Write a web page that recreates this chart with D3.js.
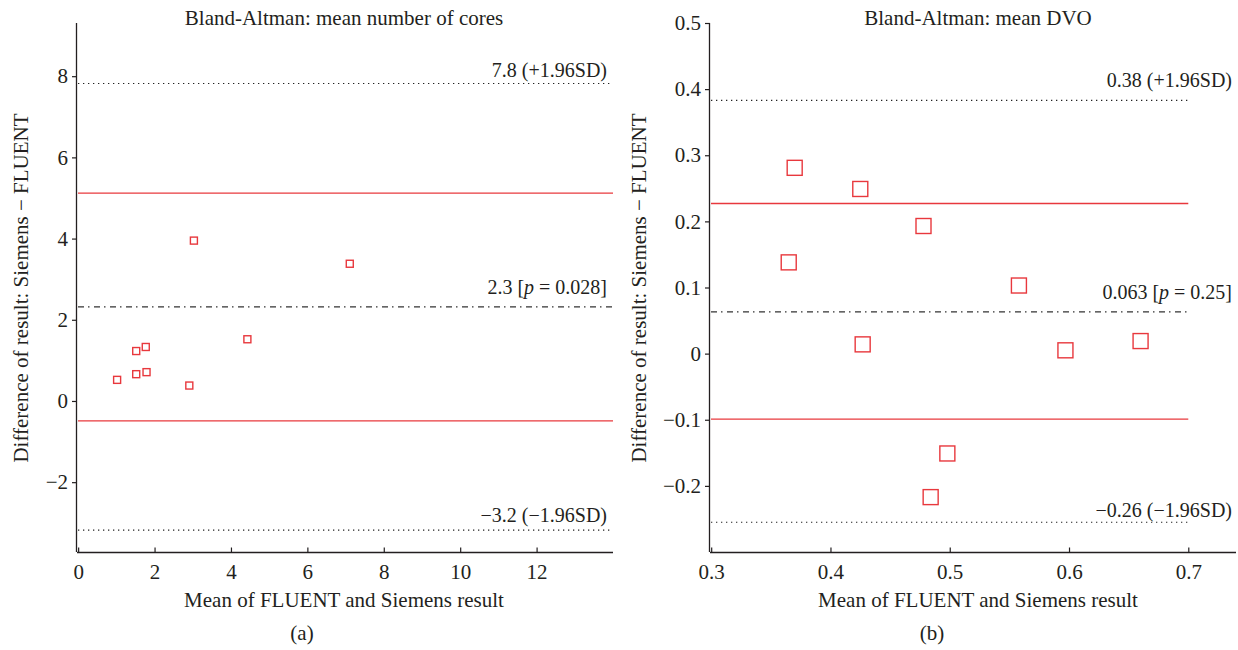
<!DOCTYPE html>
<html>
<head>
<meta charset="utf-8">
<script src="https://cdn.jsdelivr.net/npm/d3@7"></script>
<style>
  html, body { margin: 0; padding: 0; background: #fff; }
  svg text { font-family: "Liberation Serif", "DejaVu Serif", serif; fill: #231f20; }
</style>
</head>
<body>
<svg id="chart" width="1238" height="650"></svg>
<script>
// panel (a): mean number of cores
const coresMean = [3.03, 7.11, 4.43, 1.52, 1.77, 1.02, 1.52, 1.79, 2.91];
const coresDiff = [3.95, 3.38, 1.52, 1.23, 1.33, 0.52, 0.66, 0.71, 0.38];
const coresLines = [7.82, 5.12, 2.32, -0.49, -3.18];
const coresLabels = ['7.8 (+1.96SD)', null, ['2.3 [', 'p', ' = 0.028]'], null, '\u22123.2 (\u22121.96SD)'];
const coresXTicks = [0, 2, 4, 6, 8, 10, 12];
const coresYTicks = [-2, 0, 2, 4, 6, 8];

// panel (b): mean DVO
const dvoMean = [0.370, 0.425, 0.478, 0.365, 0.558, 0.427, 0.597, 0.660, 0.498, 0.484];
const dvoDiff = [0.281, 0.249, 0.193, 0.138, 0.103, 0.014, 0.005, 0.019, -0.151, -0.217];
const dvoLines = [0.383, 0.227, 0.063, -0.099, -0.255];
const dvoLabels = ['0.38 (+1.96SD)', null, ['0.063 [', 'p', ' = 0.25]'], null, '\u22120.26 (\u22121.96SD)'];
const dvoXTicks = [0.3, 0.4, 0.5, 0.6, 0.7];
const dvoYTicks = [-0.2, -0.1, 0, 0.1, 0.2, 0.3, 0.4, 0.5];

// kinds of reference lines, same order as the *Lines arrays
const lineKinds = ['loa', 'ci', 'mean', 'ci', 'loa'];

const RED = '#e8383d';
const INK = '#231f20';
const TICK_FS = '21px';
const NOTE_FS = '20px';
const LABEL_FS = '21px';

const svg = d3.select('#chart');

function drawPanel(cfg) {
    const x = d3.scaleLinear().domain(cfg.xDomain).range(cfg.xRange);
    const y = d3.scaleLinear().domain(cfg.yDomain).range([552, 23]);
    const g = svg.append('g');
    const fmt = v => d3.format(cfg.tickFmt)(v).replace('-', '\u2212');

    // y axis (ticks outward)
    const yAxis = g.append('g')
        .attr('transform', `translate(${cfg.xRange[0]},0)`)
        .call(d3.axisLeft(y).tickValues(cfg.yTicks).tickSize(5).tickPadding(4).tickFormat(fmt));
    // x axis (ticks inward)
    const xAxis = g.append('g')
        .attr('transform', `translate(0,552)`)
        .call(d3.axisBottom(x).tickValues(cfg.xTicks).tickSize(-5).tickPadding(12).tickFormat(fmt));

    [yAxis, xAxis].forEach(a => {
        a.attr('font-size', null).attr('font-family', null);
        a.select('.domain').attr('stroke', INK).attr('stroke-width', 1.3);
        a.selectAll('.tick line').attr('stroke', INK).attr('stroke-width', 1.2);
        a.selectAll('.tick text')
            .style('font-family', '"Liberation Serif", serif')
            .style('font-size', TICK_FS)
            .attr('fill', INK);
    });
    yAxis.select('.domain').attr('d', `M-0.5,${y.range()[1]}V${y.range()[0]}`);
    xAxis.select('.domain').attr('d', `M${cfg.xRange[0]},0.5H${cfg.xRange[1]}`);
    xAxis.selectAll('.tick line').attr('transform', 'translate(0,0.5)');

    // reference lines
    const lineEnd = x(cfg.lineEnd);
    cfg.lines.forEach((v, i) => {
        const kind = lineKinds[i];
        const ln = g.append('line')
            .attr('x1', cfg.xRange[0] + 1)
            .attr('x2', lineEnd)
            .attr('y1', y(v))
            .attr('y2', y(v));
        if (kind === 'ci') {
            ln.attr('stroke', RED).attr('stroke-width', 1.3);
        } else if (kind === 'mean') {
            ln.attr('stroke', '#333').attr('stroke-width', 1.2).attr('stroke-dasharray', '6,4,1.5,4.5');
        } else {
            ln.attr('stroke', '#222').attr('stroke-width', 1.2).attr('stroke-dasharray', '1.3,3.7');
        }

        const lab = cfg.labels[i];
        if (!lab) return;
        const t = g.append('text')
            .attr('x', cfg.labelX)
            .attr('y', y(v) - cfg.labelGap[i])
            .attr('text-anchor', 'end')
            .style('font-size', NOTE_FS);
        if (Array.isArray(lab)) {
            t.append('tspan').text(lab[0]);
            t.append('tspan').style('font-style', 'italic').text(lab[1]);
            t.append('tspan').text(lab[2]);
        } else {
            t.text(lab);
        }
    });

    // points
    const pts = cfg.xs.map((d, i) => ({ x: d, y: cfg.ys[i] }));
    g.selectAll('rect.pt')
        .data(pts)
        .enter()
        .append('rect')
        .attr('class', 'pt')
        .attr('x', d => x(d.x) - cfg.marker / 2)
        .attr('y', d => y(d.y) - cfg.marker / 2)
        .attr('width', cfg.marker)
        .attr('height', cfg.marker)
        .attr('fill', 'none')
        .attr('stroke', RED)
        .attr('stroke-width', 1.4);

    // titles and labels
    g.append('text')
        .attr('x', cfg.titleX)
        .attr('y', 25)
        .attr('text-anchor', 'middle')
        .style('font-size', LABEL_FS)
        .text(cfg.title);

    g.append('text')
        .attr('x', cfg.xLabelX)
        .attr('y', 607)
        .attr('text-anchor', 'middle')
        .style('font-size', LABEL_FS)
        .text('Mean of FLUENT and Siemens result');

    g.append('text')
        .attr('transform', `translate(${cfg.yLabelX},288) rotate(-90)`)
        .attr('text-anchor', 'middle')
        .style('font-size', LABEL_FS)
        .text('Difference of result: Siemens \u2212 FLUENT');

    g.append('text')
        .attr('x', cfg.capX)
        .attr('y', 640)
        .attr('text-anchor', 'middle')
        .style('font-size', LABEL_FS)
        .text(cfg.caption);
}

drawPanel({
    xs: coresMean, ys: coresDiff,
    lines: coresLines, labels: coresLabels, labelGap: [6, 0, 13, 0, 8],
    xTicks: coresXTicks, yTicks: coresYTicks, tickFmt: 'd',
    xDomain: [-0.03, 14], xRange: [77, 613], yDomain: [-3.72, 9.31],
    lineEnd: 14, labelX: 607, marker: 7,
    title: 'Bland-Altman: mean number of cores', titleX: 344,
    xLabelX: 344, yLabelX: 28, caption: '(a)', capX: 302
});

drawPanel({
    xs: dvoMean, ys: dvoDiff,
    lines: dvoLines, labels: dvoLabels, labelGap: [13, 0, 13, 0, 5],
    xTicks: dvoXTicks, yTicks: dvoYTicks, tickFmt: '.1~f',
    xDomain: [0.299, 0.74], xRange: [710, 1236], yDomain: [-0.3, 0.5],
    lineEnd: 0.7, labelX: 1232, marker: 15,
    title: 'Bland-Altman: mean DVO', titleX: 978,
    xLabelX: 978, yLabelX: 646, caption: '(b)', capX: 932
});
</script>
</body>
</html>
